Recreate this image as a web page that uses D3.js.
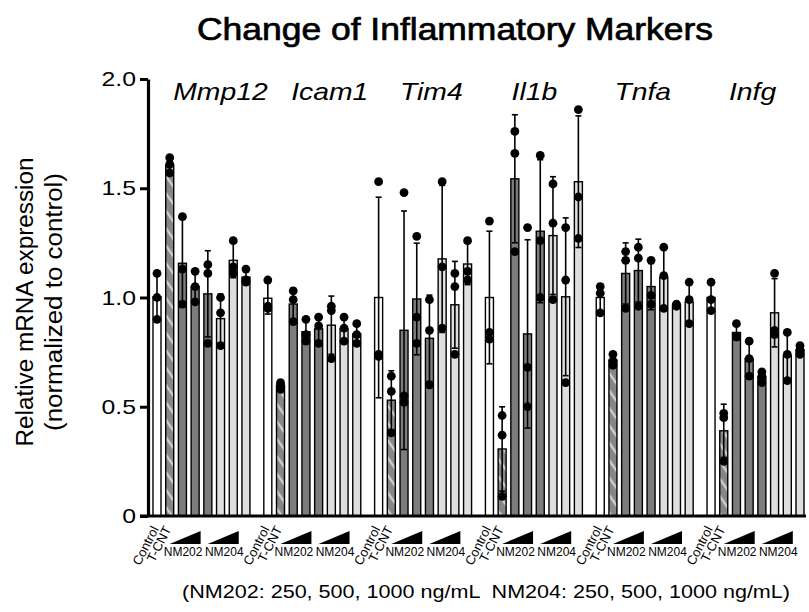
<!DOCTYPE html>
<html>
<head>
<meta charset="utf-8">
<script src="https://cdn.jsdelivr.net/npm/d3@7"></script>
<style>
  body { margin: 0; background: #fff; }
  text { font-family: "Liberation Sans", Arial, sans-serif; fill: #000; }
</style>
</head>
<body>
<div id="chart"></div>
<script>
// genes (panels) and treatment groups inside each panel
var genes = ["Mmp12", "Icam1", "Tim4", "Il1b", "Tnfa", "Infg"];
var treatments = ["Control", "T-CNT", "NM202-250", "NM202-500", "NM202-1000", "NM204-250", "NM204-500", "NM204-1000"];
var yTicks = [0, 0.5, 1.0, 1.5, 2.0];

// replicate values (3 per treatment)
var mmp12 = [[1.11, 1.00, 0.90], [1.64, 1.61, 1.57], [1.37, 1.13, 0.97], [1.12, 1.05, 0.98],
             [1.15, 1.11, 0.79], [1.00, 0.93, 0.78], [1.26, 1.14, 1.11], [1.13, 1.08, 1.07]];
var icam1 = [[1.08, 0.96, 0.95], [0.61, 0.60, 0.58], [1.03, 0.99, 0.89], [0.90, 0.83, 0.80],
             [0.91, 0.87, 0.79], [0.96, 0.94, 0.72], [0.91, 0.86, 0.80], [0.88, 0.83, 0.79]];
var tim4  = [[1.53, 0.74, 0.73], [0.64, 0.57, 0.38], [1.48, 0.55, 0.52], [1.28, 0.91, 0.79],
             [0.99, 0.85, 0.60], [1.53, 1.14, 0.86], [1.11, 1.05, 0.74], [1.26, 1.12, 1.08]];
var il1b  = [[1.35, 0.84, 0.81], [0.46, 0.37, 0.09], [1.76, 1.66, 1.21], [1.32, 0.68, 0.50],
             [1.65, 1.26, 1.00], [1.52, 1.34, 0.99], [1.32, 1.08, 0.61], [1.86, 1.46, 1.27]];
var tnfa  = [[1.05, 1.02, 0.93], [0.74, 0.71, 0.69], [1.21, 1.17, 0.95], [1.23, 1.18, 0.96],
             [1.17, 1.01, 0.97], [1.23, 1.10, 0.95], [0.97, 0.965, 0.96], [1.07, 0.99, 0.88]];
var infg  = [[1.07, 0.99, 0.94], [0.47, 0.45, 0.25], [0.88, 0.82, 0.82], [0.80, 0.72, 0.64],
             [0.66, 0.64, 0.61], [1.11, 0.85, 0.83], [0.84, 0.74, 0.62], [0.78, 0.76, 0.74]];

var replicates = [mmp12, icam1, tim4, il1b, tnfa, infg];

var width = 809, height = 612,
    stretchK = 1.18;   // the original figure's text is a little wider than Arial

var fills = {"Control": "#ffffff", "T-CNT": "url(#tcnt)"};
function fillFor(t) {
  if (fills[t]) return fills[t];
  return t.indexOf("NM202") === 0 ? "#7c7c7c" : "#dedede";
}

// flatten into one row per bar
var rows = [];
genes.forEach(function(g, gi) {
  treatments.forEach(function(t, ti) {
    var v = replicates[gi][ti];
    rows.push({gene: g, treat: t, values: v, mean: d3.mean(v), sd: d3.deviation(v)});
  });
});

var svg = d3.select("#chart").append("svg")
    .attr("width", width)
    .attr("height", height);

// hatch for the T-CNT bars
var pat = svg.append("defs").append("pattern")
    .attr("id", "tcnt")
    .attr("patternUnits", "userSpaceOnUse")
    .attr("width", 10).attr("height", 10)
    .attr("patternTransform", "rotate(55)");
pat.append("rect").attr("width", 10).attr("height", 10).attr("fill", "#868686");
pat.append("line").attr("x1", 0).attr("y1", 5).attr("x2", 10).attr("y2", 5)
    .attr("stroke", "#d0d0d0").attr("stroke-width", 2.4);

var xGroup = d3.scaleBand()
    .domain(genes)
    .range([153, 804])
    .paddingInner(0.125)
    .paddingOuter(0);

var xBar = d3.scaleBand()
    .domain(treatments)
    .range([0, xGroup.bandwidth()])
    .paddingInner(0.37)
    .paddingOuter(0);

var y = d3.scaleLinear()
    .domain([0, 2])
    .range([516, 79]);

function stretch(sel, k) {
  sel.each(function() {
    var w = this.getComputedTextLength();
    d3.select(this).attr("textLength", w * k).attr("lengthAdjust", "spacingAndGlyphs");
  });
}

function barX(d) { return xGroup(d.gene) + xBar(d.treat); }
function barC(d) { return barX(d) + xBar.bandwidth() / 2; }

// bars
svg.append("g").selectAll("rect")
    .data(rows)
    .enter()
  .append("rect")
    .attr("x", barX)
    .attr("y", function(d) { return y(d.mean); })
    .attr("width", xBar.bandwidth())
    .attr("height", function(d) { return y(0) - y(d.mean); })
    .attr("fill", function(d) { return fillFor(d.treat); })
    .attr("stroke", "#000")
    .attr("stroke-width", 1.4);

// error bars (mean +/- SD)
var capW = 6;
var eb = svg.append("g")
    .attr("stroke", "#000")
    .attr("stroke-width", 1.6)
  .selectAll("g")
    .data(rows)
    .enter()
  .append("g");

eb.append("line")
    .attr("x1", barC).attr("x2", barC)
    .attr("y1", function(d) { return y(Math.max(0, d.mean - d.sd)); })
    .attr("y2", function(d) { return y(d.mean + d.sd); });

eb.append("line")
    .attr("x1", function(d) { return barC(d) - capW / 2; })
    .attr("x2", function(d) { return barC(d) + capW / 2; })
    .attr("y1", function(d) { return y(d.mean + d.sd); })
    .attr("y2", function(d) { return y(d.mean + d.sd); });

eb.append("line")
    .attr("x1", function(d) { return barC(d) - capW / 2; })
    .attr("x2", function(d) { return barC(d) + capW / 2; })
    .attr("y1", function(d) { return y(Math.max(0, d.mean - d.sd)); })
    .attr("y2", function(d) { return y(Math.max(0, d.mean - d.sd)); });

// replicate dots
var dots = [];
rows.forEach(function(r) {
  r.values.forEach(function(v) { dots.push({row: r, v: v}); });
});
svg.append("g").selectAll("circle")
    .data(dots)
    .enter()
  .append("circle")
    .attr("cx", function(d) { return barC(d.row); })
    .attr("cy", function(d) { return y(d.v); })
    .attr("r", 4.4)
    .attr("fill", "#000");

// y axis
var yAxis = svg.append("g")
    .attr("transform", "translate(148,0)")
    .call(d3.axisLeft(y)
      .tickValues(yTicks)
      .tickSize(8)
      .tickSizeOuter(0)
      .tickPadding(4)
      .tickFormat(function(d) { return d === 0 ? "0" : d3.format(".1f")(d); }));
yAxis.select(".domain").attr("stroke-width", 3.2);
yAxis.selectAll(".tick line").attr("stroke-width", 3);
yAxis.selectAll(".tick text")
    .attr("font-family", "Liberation Sans, Arial, sans-serif")
    .attr("font-size", 21)
    .call(stretch, stretchK);

// x baseline
svg.append("line")
    .attr("x1", 140)
    .attr("x2", xGroup.range()[1] + 2)
    .attr("y1", y(0))
    .attr("y2", y(0))
    .attr("stroke", "#000")
    .attr("stroke-width", 3.2);

// gene names
var labelDx = [67.5, 66, 56.7, 49, 46.5, 45.5];
svg.append("g").selectAll("text")
    .data(genes)
    .enter()
  .append("text")
    .attr("x", function(d, i) { return xGroup(d) + labelDx[i]; })
    .attr("y", 100)
    .attr("text-anchor", "middle")
    .attr("font-size", 24)
    .attr("font-style", "italic")
    .text(function(d) { return d; })
    .call(stretch, stretchK);

// x labels under each panel
var xl = svg.append("g").selectAll("g")
    .data(genes)
    .enter()
  .append("g");

["Control", "T-CNT"].forEach(function(t) {
  xl.append("text")
    .attr("transform", function(g) {
      return "translate(" + (xGroup(g) + xBar(t) + xBar.bandwidth() / 2 + 2) + ",529) rotate(-63)";
    })
    .attr("text-anchor", "end")
    .attr("font-size", 13)
    .text(t);
});

// dose ramps: [first bar, last bar, label, label shift]
[["NM202-250", "NM202-1000", "NM202", -2], ["NM204-250", "NM204-1000", "NM204", 1]].forEach(function(p) {
  function cx(g) { return xGroup(g) + (xBar(p[0]) + xBar(p[1]) + xBar.bandwidth()) / 2 - 10; }
  xl.append("path")
    .attr("d", function(g) {
      var c = cx(g);
      return "M" + (c - 15.5) + ",544L" + (c + 15.5) + ",544L" + (c + 15.5) + ",531Z";
    })
    .attr("fill", "#000");
  xl.append("text")
    .attr("x", function(g) { return cx(g) + p[3]; })
    .attr("y", 556)
    .attr("text-anchor", "middle")
    .attr("font-size", 12)
    .text(p[2]);
});

// y axis title
var yt = svg.append("g").attr("transform", "translate(0,302) rotate(-90)");
yt.append("text")
    .attr("x", 0).attr("y", 33)
    .attr("text-anchor", "middle")
    .attr("font-size", 23)
    .attr("textLength", 289)
    .attr("lengthAdjust", "spacingAndGlyphs")
    .text("Relative mRNA expression");
yt.append("text")
    .attr("x", 0).attr("y", 62)
    .attr("text-anchor", "middle")
    .attr("font-size", 23)
    .attr("textLength", 258)
    .attr("lengthAdjust", "spacingAndGlyphs")
    .text("(normalized to control)");

// title
svg.append("text")
    .attr("x", 197)
    .attr("y", 40)
    .attr("font-family", "'Open Sans', sans-serif")
    .attr("font-size", 31)
    .attr("stroke", "#000")
    .attr("stroke-width", 0.7)
    .attr("textLength", 516)
    .attr("lengthAdjust", "spacingAndGlyphs")
    .text("Change of Inflammatory Markers");

// dose note
svg.append("text")
    .attr("x", 182)
    .attr("y", 598)
    .attr("font-size", 19)
    .attr("xml:space", "preserve")
    .attr("textLength", 608)
    .attr("lengthAdjust", "spacingAndGlyphs")
    .text("(NM202: 250, 500, 1000 ng/mL  NM204: 250, 500, 1000 ng/mL)");
</script>
</body>
</html>
